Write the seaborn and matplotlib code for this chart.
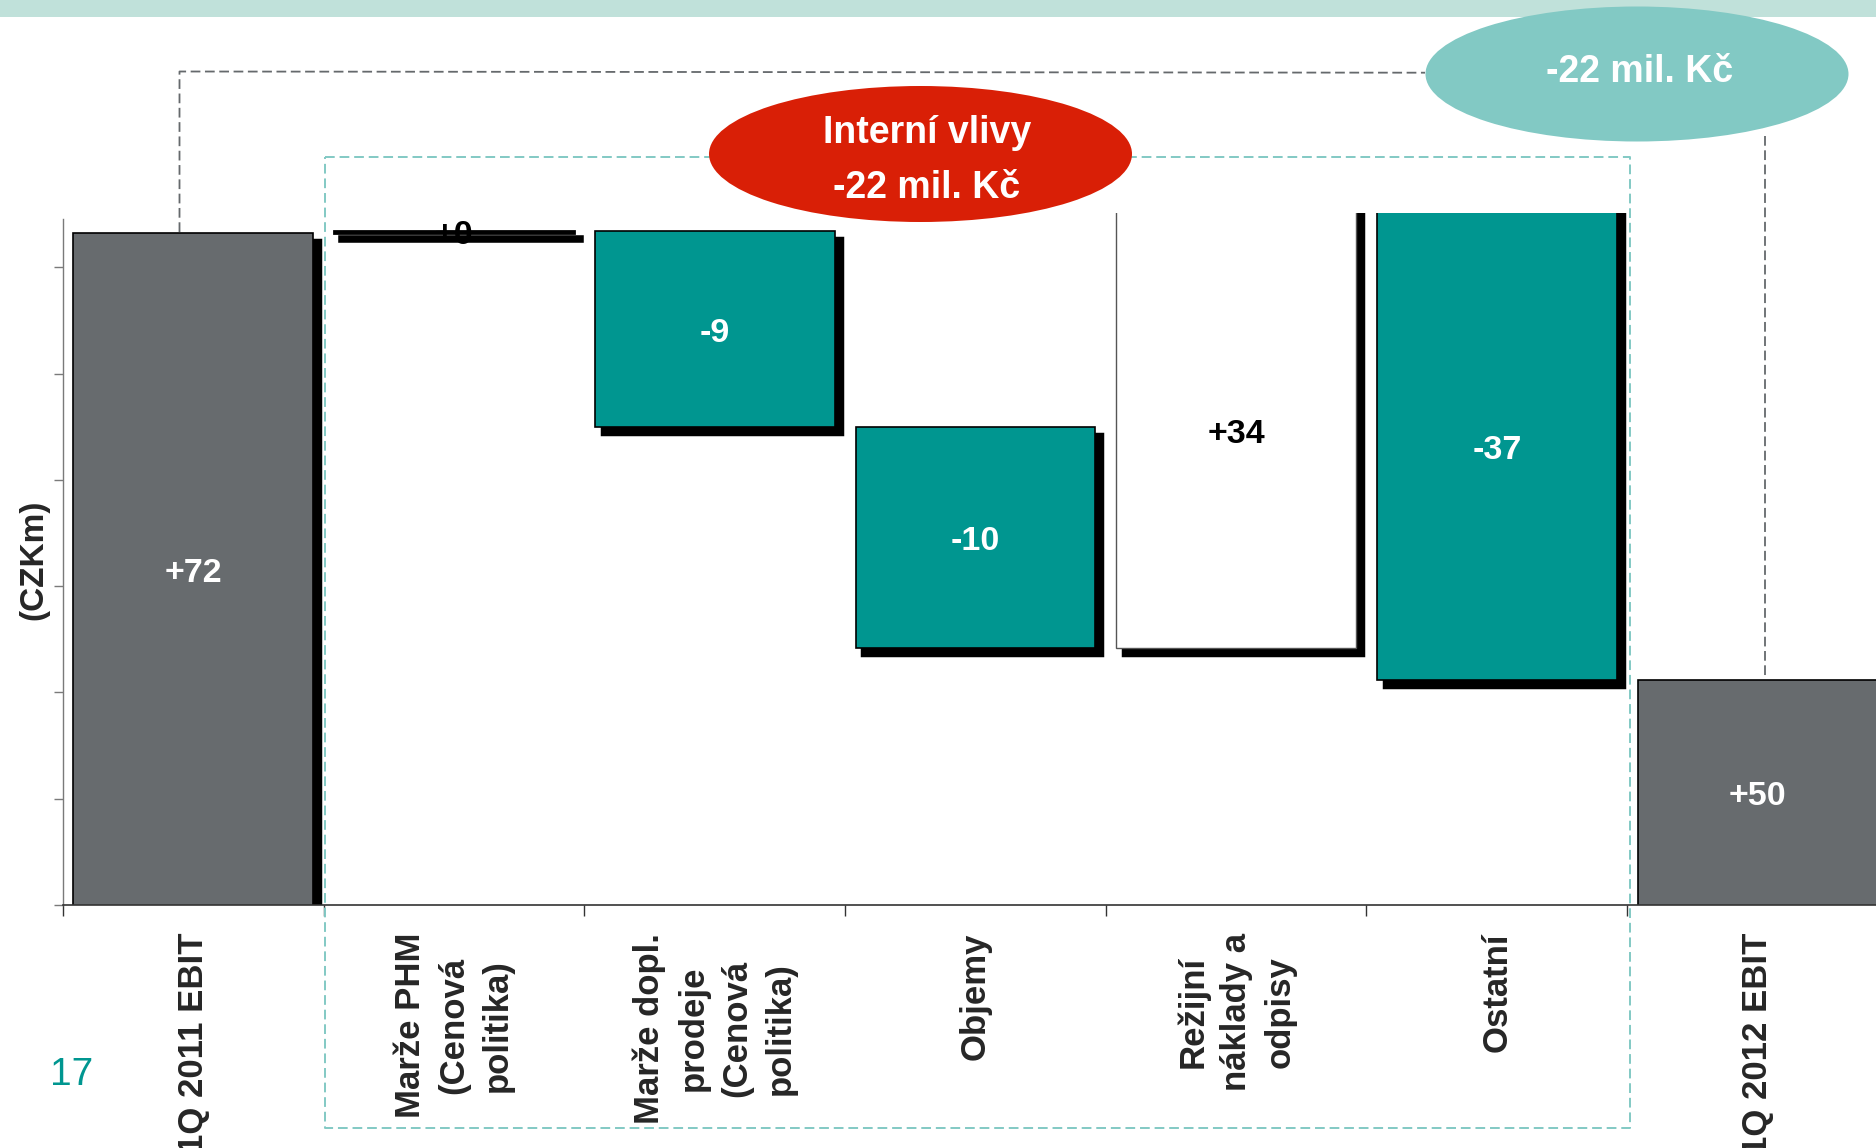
import numpy as np
import pandas as pd
import matplotlib
matplotlib.use("Agg")
import matplotlib.pyplot as plt
import matplotlib.patheffects as pe
from matplotlib.patches import Ellipse, Rectangle
from matplotlib.lines import Line2D
import seaborn as sns

# ---------------- data ----------------
categories = ["1Q 2011 EBIT", "Marže PHM\n(Cenová\npolitika)",
              "Marže dopl.\nprodeje\n(Cenová\npolitika)", "Objemy",
              "Režijní\nnáklady a\nodpisy", "Ostatní", "1Q 2012 EBIT"]
start_value = 71.6          # bar levels as drawn (axis starts near 40)
step_values = [0.1, -9.2, -10.4, 34.0, -35.5]
end_value = 50.6
value_labels = ["+72", "+0", "-9", "-10", "+34", "-37", "+50"]
bar_kinds = ["total", "step", "step", "step", "step", "step", "total"]

GRAY = "#676B6E"
TEAL = "#009690"
RED = "#D91F06"
LTEAL = "#82C9C4"
BAND = "#C0E1DA"

# derived waterfall geometry
levels = np.cumsum([start_value] + step_values)
heights = [start_value] + step_values + [end_value]
bottoms = [0.0] + list(levels[:-1]) + [0.0]
tops = [b + h for b, h in zip(bottoms, heights)]
face_colors = []
for k, h in zip(bar_kinds, heights):
    if k == "total":
        face_colors.append(GRAY)
    elif h >= 0:
        face_colors.append("white")
    else:
        face_colors.append(TEAL)

df = pd.DataFrame({"category": categories, "height": heights})

# ---------------- figure ----------------
sns.set_theme(style="white")
plt.rcParams["font.family"] = ["Liberation Sans", "DejaVu Sans"]
plt.rcParams["lines.scale_dashes"] = False

W, H = 1876, 1148
fig = plt.figure(figsize=(W / 100, H / 100), dpi=100)

def fx(px):
    return px / W

def fy(py):
    return 1 - py / H

ax_left, ax_right, ax_top, ax_bot = 63, 1876, 213, 905
ax = fig.add_axes([fx(ax_left), fy(ax_bot), fx(ax_right - ax_left), (ax_bot - ax_top) / H])

sns.barplot(data=df, x="category", y="height", hue="category", palette=face_colors,
            order=categories, hue_order=categories, legend=False, errorbar=None,
            width=0.92, saturation=1, edgecolor="black", linewidth=1.2, ax=ax)

bars = sorted(ax.patches, key=lambda p: p.get_x())
for i, p in enumerate(bars):
    p.set_y(bottoms[i])
    p.set_facecolor(face_colors[i])
    thin = abs(heights[i]) < 1
    if face_colors[i] == "white" and not thin:
        p.set_edgecolor("#555555")
        p.set_linewidth(1.0)
    if thin:
        p.set_linewidth(2.0)
    lw_sh = 4.0 if thin else 2.5
    p.set_path_effects([
        pe.SimplePatchShadow(offset=(5.0, -5.0), shadow_rgbFace="black", alpha=1.0,
                             foreground="black", linewidth=lw_sh),
        pe.Normal()])

ymin = 40.0
ymax = ymin + (ax_bot - ax_top) / 21.26
ax.set_ylim(ymin, ymax)
xmin = -0.5
xmax = xmin + (ax_right - ax_left) / 260.7
ax.set_xlim(xmin, xmax)

# value labels
for i, p in enumerate(bars):
    lo = max(min(bottoms[i], tops[i]), ymin)
    hi = min(max(bottoms[i], tops[i]), ymax)
    ymid = (lo + hi) / 2
    col = "black" if face_colors[i] == "white" else "white"
    if abs(heights[i]) < 1:
        col = "black"
        ymid = tops[i]
    ax.annotate(value_labels[i], (i, ymid), xytext=(0, -3), textcoords="offset points",
                ha="center", va="center", color=col,
                fontsize=24.5, fontweight="bold", zorder=5)

# axes styling
for s in ["top", "right"]:
    ax.spines[s].set_visible(False)
ax.spines["left"].set_color("#7A7A7A")
ax.spines["left"].set_linewidth(1.0)
ax.spines["left"].set_bounds(ymin, ymax - 6 / 21.26)
ax.spines["bottom"].set_color("#333333")
ax.spines["bottom"].set_linewidth(1.2)
ax.set_yticks(np.arange(40, 71, 5))
ax.set_yticklabels([])
ax.tick_params(axis="y", which="major", left=True, length=6.5, width=1, color="#7A7A7A")
ax.set_ylabel("(CZKm)", fontsize=24, fontweight="bold")
ax.yaxis.set_label_coords((49 - ax_left) / (ax_right - ax_left),
                          (ax_bot - 560) / (ax_bot - ax_top))

ax.set_xlabel("")
ax.set_xticks(range(len(categories)))
ax.set_xticklabels(categories, rotation=90, ha="center", va="top",
                   multialignment="center", fontsize=25, fontweight="bold",
                   linespacing=1.4)
ax.set_xticks(np.arange(-0.5, len(categories) - 1, 1.0), minor=True)
ax.tick_params(axis="x", which="major", length=0, pad=20, bottom=True)
ax.tick_params(axis="x", which="minor", length=8, width=1, color="#333333", bottom=True)
ax.grid(False)

# ---------------- decorations (figure pixel coords) ----------------
fig.add_artist(Rectangle((0, fy(17)), 1, 17 / H, transform=fig.transFigure,
                         facecolor=BAND, edgecolor="none", zorder=1))

def dline(xs, ys, color, lw, dash):
    ln = Line2D([fx(x) for x in xs], [fy(y) for y in ys], transform=fig.transFigure,
                color=color, linewidth=lw, zorder=3)
    ln.set_dashes(dash)
    fig.add_artist(ln)

# gray connector
dline([179.5, 179.5, 1425], [232, 71.5, 72.7], "#65696C", 1.3, (7, 3.3))
dline([1765, 1765], [136, 678], "#65696C", 1.3, (7, 3.3))
# teal dashed box
bx0, by0, bx1, by1 = 325, 157, 1629.7, 1128
dline([bx0, bx1, bx1, bx0, bx0], [by0, by0, by1, by1, by0], LTEAL, 1.4, (7, 3.5))

# ellipses
fig.add_artist(Ellipse((fx(920.5), fy(154)), 423 / W, 136 / H, transform=fig.transFigure,
                       facecolor=RED, edgecolor="none", zorder=4))
fig.add_artist(Ellipse((fx(1637), fy(74)), 423 / W, 135 / H, transform=fig.transFigure,
                       facecolor=LTEAL, edgecolor="none", zorder=4))
fig.text(fx(927), fy(133), "Interní vlivy", ha="center", va="center", color="white",
         fontsize=27, fontweight="bold", zorder=5)
fig.text(fx(927), fy(188), "-22 mil. Kč", ha="center", va="center", color="white",
         fontsize=27, fontweight="bold", zorder=5)
fig.text(fx(1640), fy(72), "-22 mil. Kč", ha="center", va="center", color="white",
         fontsize=27, fontweight="bold", zorder=5)

# page number
fig.text(fx(72), fy(1075), "17", ha="center", va="center", color=TEAL, fontsize=28)

fig.savefig("out.png", dpi=100)
